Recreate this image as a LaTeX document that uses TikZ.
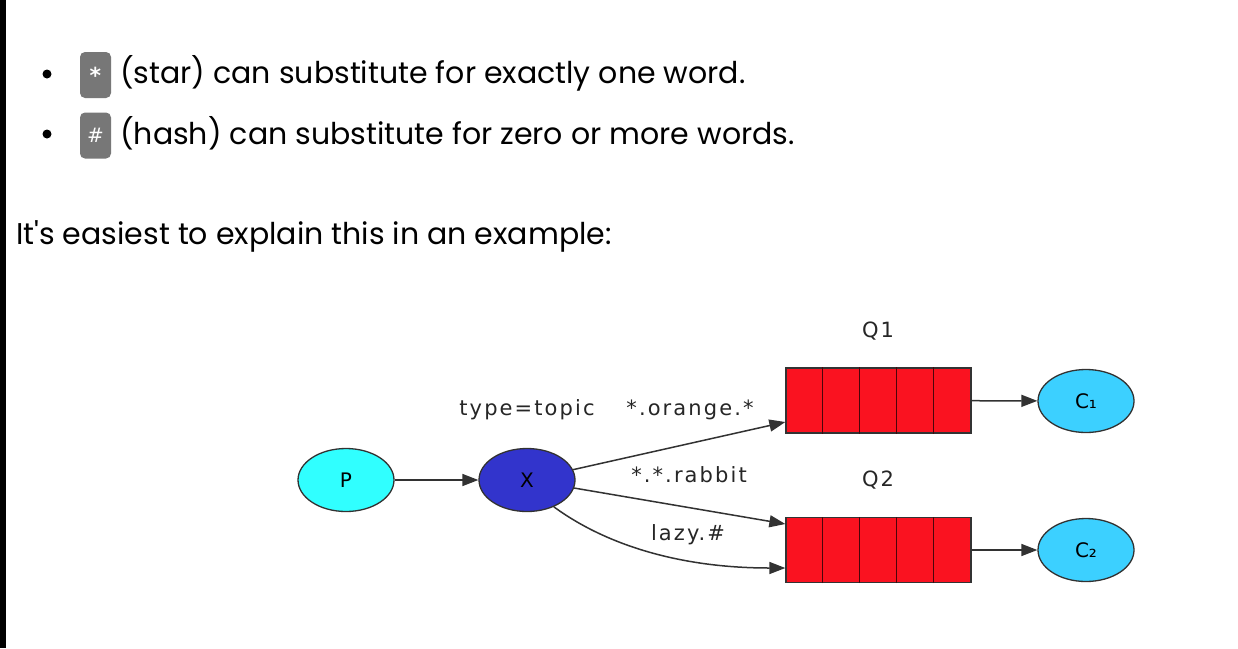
\documentclass[tikz,border=0pt]{standalone}
\usepackage{fontspec}
\setmainfont{Poppins}[Ligatures=TeXOff]
\newfontfamily\dejavu{DejaVu Sans}
\newfontfamily\dejavuw[LetterSpace=10]{DejaVu Sans}
\usetikzlibrary{arrows.meta,shapes.geometric}
\definecolor{qred}{RGB}{250,18,32}
\definecolor{pcyan}{RGB}{48,255,255}
\definecolor{xblue}{RGB}{50,52,204}
\definecolor{ccyan}{RGB}{60,208,255}
\definecolor{boxgray}{RGB}{119,119,119}
\definecolor{lineg}{RGB}{50,50,50}
\begin{document}
\begin{tikzpicture}[x=1pt,y=-1pt,
  body/.style={font=\fontsize{30}{34}\selectfont, anchor=base west, inner sep=0pt},
  codebox/.style={fill=boxgray, rounded corners=5pt, minimum width=31pt, minimum height=46pt, inner sep=0pt, text=white},
  bulletdot/.style={circle, fill=black, inner sep=0pt, minimum size=9pt},
  ell/.style={ellipse, draw=lineg, line width=1.3pt, minimum width=96pt, minimum height=63pt, inner sep=0pt, font=\dejavu\fontsize{20}{20}\selectfont},
  lbl/.style={font=\dejavuw\fontsize{21}{24}\selectfont, inner sep=0pt, text=black!85},
  edge/.style={draw=lineg, line width=1.5pt, -{Triangle[length=16pt,width=12pt]}},
  queue/.style={rectangle, draw=black!80, fill=qred, line width=1.3pt, minimum width=185pt, minimum height=65pt, inner sep=0pt},
  divider/.style={draw=black!70!qred, line width=1.5pt}
]
\useasboundingbox (0,0) rectangle (1238,648);
\fill[white] (0,0) rectangle (1238,648);
\fill[black] (0,0) rectangle (6,648);

% bullet list
\node[bulletdot] (b1) at (47,74) {};
\node[bulletdot] (b2) at (47,134) {};
\node[codebox, font=\dejavu\bfseries\fontsize{22}{22}\selectfont] (k1) at (95.5,75) {*};
\node[codebox, font=\dejavu\fontsize{20}{20}\selectfont] (k2) at (95.5,135.5) {\#};
\node[body] (t1) at (120,83) {(star) can substitute for exactly one word.};
\node[body] (t2) at (120,144) {(hash) can substitute for zero or more words.};
\node[body] (t3) at (16,244) {It's easiest to explain this in an example:};

% diagram
\node[ell, fill=pcyan] (p) at (346,480) {P};
\node[ell, fill=xblue] (x) at (527,480) {X};
\node[queue] (q1) at (878.5,400.5) {};
\node[queue] (q2) at (878.5,550) {};
\foreach \k in {1,...,4} {
  \draw[divider] ([xshift=\k*37pt]q1.south west) -- ([xshift=\k*37pt]q1.north west);
  \draw[divider] ([xshift=\k*37pt]q2.south west) -- ([xshift=\k*37pt]q2.north west);
}
\node[ell, fill=ccyan] (c1) at (1086,401) {C₁};
\node[ell, fill=ccyan] (c2) at (1086,550) {C₂};

\node[lbl] (lq1) at (878,331) {Q1};
\node[lbl] (lq2) at (878,480) {Q2};
\node[lbl] (ltype) at (527,410) {type=topic};
\node[lbl] (lor) at (690,410) {*.orange.*};
\node[lbl] (lra) at (689,475) {*.*.rabbit};
\node[lbl] (lla) at (688,535) {lazy.\#};

\draw[edge] (p) -- (x);
\draw[edge] (x) -- ([yshift=-21.5pt]q1.west);
\draw[edge] (x) -- ([yshift=26pt]q2.west);
\draw[edge] (x.-45) .. controls (606,545) and (680,568) .. ([yshift=-18pt]q2.west);
\draw[edge] (q1) -- (c1);
\draw[edge] (q2) -- (c2);
\end{tikzpicture}
\end{document}
